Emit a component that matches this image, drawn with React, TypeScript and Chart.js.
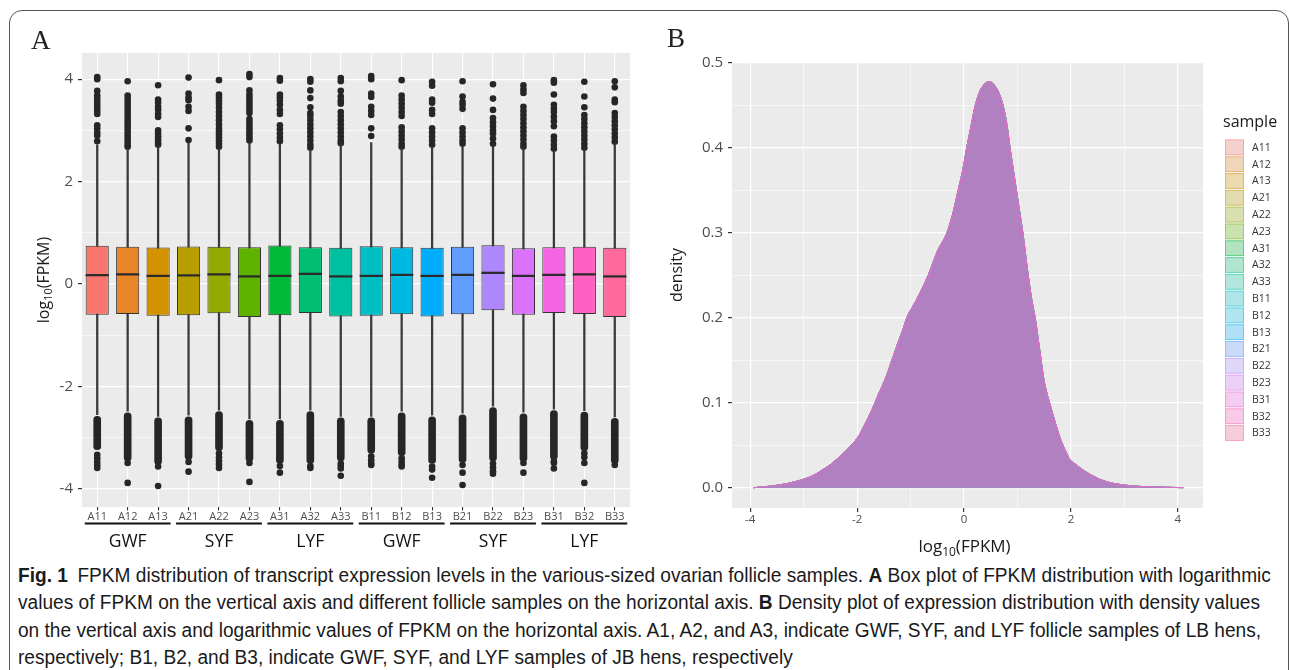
import React, { useEffect, useLayoutEffect, useRef } from 'react';
import { Chart, registerables } from 'chart.js';
Chart.register(...registerables);

const samples = ['A11','A12','A13','A21','A22','A23','A31','A32','A33','B11','B12','B13','B21','B22','B23','B31','B32','B33'];
const groups = ['GWF','SYF','LYF','GWF','SYF','LYF'];
const colors = ['#F8766D','#E88526','#D39200','#B79F00','#93AA00','#5EB300','#00BA38','#00BF74','#00C19F','#00BFC4','#00B9E3','#00ADFA','#619CFF','#AE87FF','#DB72FB','#F564E3','#FF61C3','#FF699C'];

const q1 = [-0.60,-0.585,-0.62,-0.61,-0.57,-0.64,-0.61,-0.565,-0.63,-0.62,-0.59,-0.63,-0.59,-0.51,-0.60,-0.565,-0.585,-0.64];
const q3 = [0.75,0.73,0.715,0.735,0.73,0.72,0.755,0.72,0.71,0.74,0.72,0.71,0.73,0.76,0.70,0.72,0.73,0.71];
const medians = [0.175,0.19,0.16,0.17,0.19,0.15,0.16,0.2,0.15,0.16,0.18,0.16,0.18,0.22,0.16,0.18,0.19,0.15];
const whiskerHigh = [2.72,2.64,2.68,2.75,2.64,2.76,2.74,2.62,2.72,2.76,2.65,2.68,2.7,2.7,2.65,2.6,2.62,2.74];
const whiskerLow = [-2.55,-2.48,-2.58,-2.56,-2.46,-2.63,-2.63,-2.46,-2.58,-2.58,-2.48,-2.56,-2.52,-2.38,-2.5,-2.44,-2.47,-2.59];

const upperOutliers = [
  [4.04,4.0,3.77,3.68,3.62,3.56,3.5,3.44,3.38,3.32,3.1,3.04,2.96,2.9,2.79],
  [3.96,3.68,3.62,3.56,3.5,3.44,3.38,3.32,3.26,3.2,3.14,3.08,3.02,2.96,2.9,2.84,2.78,2.72,2.68],
  [3.88,3.6,3.54,3.46,3.4,3.32,3.26,3.0,2.94,2.88,2.82,2.76,2.72],
  [4.03,3.72,3.64,3.59,3.46,3.38,3.04,2.81],
  [3.98,3.7,3.64,3.58,3.52,3.44,3.36,3.28,3.2,3.12,3.04,2.98,2.92,2.86,2.8,2.74,2.68],
  [4.1,4.04,3.78,3.7,3.64,3.58,3.52,3.46,3.4,3.34,3.22,3.16,3.1,3.04,2.98,2.92,2.86,2.8],
  [4.02,3.97,3.7,3.64,3.58,3.5,3.4,3.32,3.1,3.02,2.94,2.86,2.79],
  [4.0,3.95,3.78,3.63,3.45,3.34,3.28,3.2,3.12,3.04,2.96,2.88,2.8,2.72,2.66],
  [4.02,3.96,3.77,3.66,3.58,3.52,3.36,3.28,3.2,3.12,3.04,2.96,2.88,2.8,2.75],
  [4.06,4.0,3.72,3.65,3.46,3.38,3.3,3.04,2.89],
  [3.98,3.68,3.6,3.52,3.44,3.36,3.28,3.06,2.98,2.9,2.82,2.74,2.68],
  [3.95,3.87,3.6,3.54,3.4,3.32,3.04,2.96,2.88,2.8,2.72],
  [3.96,3.66,3.56,3.5,3.42,3.04,2.96,2.88,2.8,2.74],
  [3.9,3.62,3.4,3.24,3.16,3.08,3.0,2.94,2.84,2.74],
  [3.88,3.8,3.73,3.46,3.38,3.3,3.22,3.14,3.06,2.98,2.9,2.82,2.74,2.68],
  [3.98,3.93,3.7,3.5,3.42,3.36,3.27,3.18,3.08,2.88,2.8,2.72,2.64],
  [3.95,3.66,3.45,3.3,3.22,3.14,3.06,2.98,2.9,2.82,2.74,2.66],
  [3.96,3.84,3.6,3.55,3.34,3.26,3.18,3.1,3.02,2.94,2.86,2.78],
];
const lowerDense = [
  [-2.58,-3.23],[-2.51,-3.45],[-2.61,-3.52],[-2.59,-3.42],[-2.49,-3.25],[-2.66,-3.46],[-2.66,-3.5],[-2.49,-3.5],[-2.61,-3.45],
  [-2.61,-3.3],[-2.51,-3.35],[-2.59,-3.5],[-2.55,-3.48],[-2.41,-3.45],[-2.53,-3.46],[-2.47,-3.42],[-2.5,-3.25],[-2.62,-3.5],
];
const lowerOutliers = [
  [-3.33,-3.4,-3.47,-3.53,-3.59],[-3.49,-3.88],[-3.56,-3.94],[-3.47,-3.66],[-3.3,-3.38,-3.45,-3.52,-3.59],[-3.49,-3.86],
  [-3.55,-3.68],[-3.55,-3.59],[-3.5,-3.55,-3.6,-3.74],[-3.36,-3.44,-3.5,-3.53],[-3.4,-3.46,-3.52,-3.56],[-3.56,-3.62,-3.78],
  [-3.53,-3.68,-3.92],[-3.5,-3.58,-3.65,-3.7],[-3.49,-3.68],[-3.46,-3.49,-3.6],[-3.3,-3.38,-3.49,-3.88],[-3.53],
];

const boxTicks = [-4,-3,-2,-1,0,1,2,3,4];
const densXTicks = [-4,-3,-2,-1,0,1,2,3,4];
const densYTicks = [0,0.05,0.1,0.15,0.2,0.25,0.3,0.35,0.4,0.45,0.5];

const densityX = [-3.94,-3.6,-3.3,-3.05,-2.8,-2.65,-2.5,-2.32,-2.15,-1.98,-1.85,-1.72,-1.6,-1.46,-1.35,-1.25,-1.15,-1.07,-0.9,-0.67,-0.5,-0.32,-0.2,-0.11,-0.02,0.05,0.13,0.21,0.3,0.4,0.47,0.55,0.65,0.73,0.8,0.86,0.92,0.98,1.04,1.1,1.2,1.27,1.33,1.42,1.5,1.6,1.7,1.8,1.9,1.98,2.1,2.2,2.35,2.5,2.62,2.8,3.16,3.5,4.1];
const densityY = [0,0.002,0.005,0.009,0.015,0.021,0.027,0.037,0.047,0.06,0.075,0.092,0.11,0.13,0.15,0.168,0.185,0.2,0.22,0.25,0.278,0.3,0.325,0.35,0.375,0.4,0.425,0.45,0.467,0.476,0.478,0.475,0.465,0.45,0.428,0.4,0.375,0.35,0.325,0.3,0.25,0.22,0.2,0.16,0.125,0.1,0.078,0.058,0.043,0.033,0.027,0.022,0.016,0.011,0.008,0.005,0.002,0.001,0];

const FONT = '"Open Sans", "Noto Sans", sans-serif';

function rgba(hex: string, a: number) {
  const n = parseInt(hex.slice(1), 16);
  return `rgba(${(n >> 16) & 255},${(n >> 8) & 255},${n & 255},${a})`;
}

function drawLogTitle(ctx: CanvasRenderingContext2D, cx: number, cy: number, size: number, rotate: boolean) {
  ctx.save();
  ctx.translate(cx, cy);
  if (rotate) ctx.rotate(-Math.PI / 2);
  ctx.fillStyle = '#1a1a1a';
  ctx.textBaseline = 'alphabetic';
  ctx.textAlign = 'left';
  const main = `${size}px ${FONT}`;
  const sub = `${Math.round(size * 0.68)}px ${FONT}`;
  ctx.font = main;
  const w1 = ctx.measureText('log').width;
  const w3 = ctx.measureText('(FPKM)').width;
  ctx.font = sub;
  const w2 = ctx.measureText('10').width;
  let x = -(w1 + w2 + w3) / 2;
  const base = size * 0.36;
  ctx.font = main;
  ctx.fillText('log', x, base);
  x += w1;
  ctx.font = sub;
  ctx.fillText('10', x, base + size * 0.22);
  x += w2;
  ctx.font = main;
  ctx.fillText('(FPKM)', x, base);
  ctx.restore();
}

const panelBg = {
  id: 'panelBg',
  beforeDraw(chart: any) {
    const { ctx, chartArea: a } = chart;
    ctx.save();
    ctx.fillStyle = '#EBEBEB';
    ctx.fillRect(a.left, a.top, a.right - a.left, a.bottom - a.top);
    ctx.restore();
  },
};

const boxDecor = {
  id: 'boxDecor',
  afterDraw(chart: any) {
    const { ctx, chartArea: a } = chart;
    const xs = chart.scales.x;
    const step = xs.getPixelForValue(1) - xs.getPixelForValue(0);
    ctx.save();
    ctx.strokeStyle = '#111';
    ctx.lineWidth = 2;
    ctx.fillStyle = '#111';
    ctx.font = `17.5px ${FONT}`;
    ctx.textAlign = 'center';
    ctx.textBaseline = 'middle';
    groups.forEach((g, gi) => {
      const x0 = xs.getPixelForValue(gi * 3) - step * 0.41;
      const x1 = xs.getPixelForValue(gi * 3 + 2) + step * 0.41;
      ctx.beginPath();
      ctx.moveTo(x0, a.bottom + 16.5);
      ctx.lineTo(x1, a.bottom + 16.5);
      ctx.stroke();
      ctx.fillText(g, xs.getPixelForValue(gi * 3 + 1), a.bottom + 35);
    });
    ctx.restore();
    drawLogTitle(ctx, 43, (a.top + a.bottom) / 2, 16, true);
  },
};

const densDecor = {
  id: 'densDecor',
  afterDraw(chart: any) {
    const { ctx, chartArea: a } = chart;
    drawLogTitle(ctx, (a.left + a.right) / 2 - 3, a.bottom + 38, 17, false);
    ctx.save();
    ctx.translate(27, (a.top + a.bottom) / 2 - 10);
    ctx.rotate(-Math.PI / 2);
    ctx.fillStyle = '#1a1a1a';
    ctx.font = `16px ${FONT}`;
    ctx.textAlign = 'center';
    ctx.textBaseline = 'middle';
    ctx.fillText('density', 0, 0);
    ctx.restore();
    // legend
    ctx.save();
    const lx = a.right + 22;
    ctx.fillStyle = '#1a1a1a';
    ctx.font = `16px ${FONT}`;
    ctx.textAlign = 'left';
    ctx.textBaseline = 'middle';
    ctx.fillText('sample', lx - 2, 122);
    const top0 = 139.5;
    const rowH = 16.8;
    samples.forEach((s, i) => {
      const y = top0 + i * rowH;
      ctx.fillStyle = '#F4F4F4';
      ctx.fillRect(lx, y, 19, rowH - 1);
      ctx.fillStyle = rgba(colors[i], 0.28);
      ctx.fillRect(lx, y, 19, rowH - 1);
      ctx.strokeStyle = rgba(colors[i], 0.45);
      ctx.lineWidth = 1;
      ctx.strokeRect(lx + 0.5, y + 0.5, 18, rowH - 2);
      ctx.fillStyle = '#333';
      ctx.font = `10.5px ${FONT}`;
      ctx.fillText(s, lx + 27, y + rowH / 2);
    });
    ctx.restore();
  },
};

function BoxChart() {
  const ref = useRef<HTMLCanvasElement>(null);
  useEffect(() => {
    const points: any[] = [];
    samples.forEach((s, i) => {
      upperOutliers[i].forEach((v) => points.push({ x: s, y: v }));
      lowerOutliers[i].forEach((v) => points.push({ x: s, y: v }));
    });
    const chart = new Chart(ref.current!, {
      type: 'bar',
      data: {
        labels: samples,
        datasets: [
          { type: 'bar', label: 'median', data: medians.map((m) => [m - 0.022, m + 0.022]), backgroundColor: '#2b2b2b', barPercentage: 0.76, categoryPercentage: 1, grouped: false, order: 0 } as any,
          { type: 'bar', label: 'box', data: samples.map((_, i) => [q1[i], q3[i]]), backgroundColor: colors, borderColor: '#333', borderWidth: 1, borderSkipped: false, barPercentage: 0.76, categoryPercentage: 1, grouped: false, order: 1 } as any,
          { type: 'bar', label: 'whisker', data: samples.map((_, i) => [whiskerLow[i], whiskerHigh[i]]), backgroundColor: '#3a3a3a', barThickness: 1.6, grouped: false, order: 2 } as any,
          { type: 'bar', label: 'dense', data: lowerDense, backgroundColor: '#262626', barThickness: 7, borderRadius: 3.5, borderSkipped: false, grouped: false, order: 3 } as any,
          { type: 'scatter', label: 'outliers', data: points, pointRadius: 3.3, backgroundColor: '#262626', borderWidth: 0, order: 4 } as any,
        ],
      },
      options: {
        animation: false,
        responsive: false,
        maintainAspectRatio: false,
        events: [],
        layout: { padding: { left: 0, right: 20, top: 53, bottom: 0 } },
        plugins: { legend: { display: false }, tooltip: { enabled: false } },
        scales: {
          x: {
            type: 'category',
            offset: true,
            grid: { offset: false, color: '#FFFFFF', lineWidth: 1.1, tickColor: '#333', tickLength: 3.5 },
            border: { display: false },
            ticks: { font: { family: FONT, size: 11 }, color: '#4d4d4d', padding: 0, maxRotation: 0, autoSkip: false },
            afterFit: (s: any) => { s.height = 53; },
          },
          y: {
            type: 'linear',
            min: -4.35,
            max: 4.51,
            afterBuildTicks: (s: any) => { s.ticks = boxTicks.map((v) => ({ value: v })); },
            grid: {
              color: '#FFFFFF',
              lineWidth: (c: any) => (c.tick && c.tick.value % 2 === 0 ? 1.2 : 0.6),
              tickColor: (c: any) => (c.tick && c.tick.value % 2 === 0 ? '#333' : 'rgba(0,0,0,0)'),
              tickLength: 4,
            },
            border: { display: false },
            ticks: { callback: (v: any) => (Number(v) % 2 === 0 ? String(v) : ''), font: { family: FONT, size: 15 }, color: '#4d4d4d', padding: 5 },
            afterFit: (s: any) => { s.width = 82; },
          },
        },
      },
      plugins: [panelBg, boxDecor],
    } as any);
    return () => chart.destroy();
  }, []);
  return <canvas ref={ref} width={650} height={560} style={{ position: 'absolute', left: 0, top: 0, width: 650, height: 560 }} />;
}

function DensityChart() {
  const ref = useRef<HTMLCanvasElement>(null);
  useEffect(() => {
    const chart = new Chart(ref.current!, {
      type: 'line',
      data: {
        datasets: samples.map((s, i) => ({
          label: s,
          data: densityX.map((x, j) => ({ x, y: densityY[j] })),
          borderColor: rgba(colors[i], 0.35),
          borderWidth: 1,
          backgroundColor: rgba(colors[i], 0.2),
          fill: 'origin',
          pointRadius: 0,
          cubicInterpolationMode: 'monotone',
          order: samples.length - 1 - i,
        })),
      },
      options: {
        animation: false,
        responsive: false,
        maintainAspectRatio: false,
        events: [],
        layout: { padding: { left: 0, right: 87, top: 62, bottom: 0 } },
        plugins: { legend: { display: false }, tooltip: { enabled: false } },
        scales: {
          x: {
            type: 'linear',
            min: -4.34,
            max: 4.47,
            afterBuildTicks: (s: any) => { s.ticks = densXTicks.map((v) => ({ value: v })); },
            grid: {
              color: '#FFFFFF',
              lineWidth: (c: any) => (c.tick && c.tick.value % 2 === 0 ? 1.2 : 0.6),
              tickColor: (c: any) => (c.tick && c.tick.value % 2 === 0 ? '#333' : 'rgba(0,0,0,0)'),
              tickLength: 4,
            },
            border: { display: false },
            ticks: { callback: (v: any) => (Number(v) % 2 === 0 ? String(v) : ''), font: { family: FONT, size: 11.5 }, color: '#4d4d4d', padding: 1, maxRotation: 0, autoSkip: false },
            afterFit: (s: any) => { s.height = 52; },
          },
          y: {
            type: 'linear',
            min: -0.0239,
            max: 0.501,
            afterBuildTicks: (s: any) => { s.ticks = densYTicks.map((v) => ({ value: v })); },
            grid: {
              color: '#FFFFFF',
              lineWidth: (c: any) => (c.tick && Math.round(c.tick.value * 100) % 10 === 0 ? 1.2 : 0.6),
              tickColor: (c: any) => (c.tick && Math.round(c.tick.value * 100) % 10 === 0 ? '#333' : 'rgba(0,0,0,0)'),
              tickLength: 4,
            },
            border: { display: false },
            ticks: { callback: (v: any) => (Math.round(Number(v) * 100) % 10 === 0 ? Number(v).toFixed(1) : ''), font: { family: FONT, size: 15 }, color: '#4d4d4d', padding: 5 },
            afterFit: (s: any) => { s.width = 82; },
          },
        },
      },
      plugins: [panelBg, densDecor],
    } as any);
    return () => chart.destroy();
  }, []);
  return <canvas ref={ref} width={640} height={560} style={{ position: 'absolute', left: 650, top: 0, width: 640, height: 560 }} />;
}

const captionLines: React.ReactNode[] = [
  <>
    <b>Fig. 1</b>{'\u2002'}FPKM distribution of transcript expression levels in the various-sized ovarian follicle samples. <b>A</b> Box plot of FPKM distribution with logarithmic
  </>,
  <>
    values of FPKM on the vertical axis and different follicle samples on the horizontal axis. <b>B</b> Density plot of expression distribution with density values
  </>,
  <>on the vertical axis and logarithmic values of FPKM on the horizontal axis. A1, A2, and A3, indicate GWF, SYF, and LYF follicle samples of LB hens,</>,
  <>respectively; B1, B2, and B3, indicate GWF, SYF, and LYF samples of JB hens, respectively</>,
];

function Caption() {
  const boxRef = useRef<HTMLDivElement>(null);
  const firstRef = useRef<HTMLSpanElement>(null);
  useLayoutEffect(() => {
    const fit = () => {
      if (!firstRef.current || !boxRef.current) return;
      const w = firstRef.current.offsetWidth;
      if (w > 0) boxRef.current.style.transform = `scaleX(${1253 / w})`;
    };
    fit();
    if ((document as any).fonts && (document as any).fonts.ready) (document as any).fonts.ready.then(fit);
  }, []);
  return (
    <div
      ref={boxRef}
      style={{
        position: 'absolute', left: 18, top: 562, transformOrigin: '0 0', whiteSpace: 'nowrap',
        fontFamily: '"Liberation Sans Narrow", "Arial Narrow", "Liberation Sans", sans-serif', fontSize: 19.5, lineHeight: '27.3px', color: '#1a1a1a',
      }}
    >
      {captionLines.map((l, i) => (
        <div key={i}>
          <span ref={i === 0 ? firstRef : undefined}>{l}</span>
        </div>
      ))}
    </div>
  );
}

export default function App() {
  return (
    <div style={{ position: 'absolute', left: 0, top: 0, width: 1290, height: 670, overflow: 'hidden', background: '#fff' }}>
      <div style={{ position: 'absolute', left: 9, top: 10, width: 1280, height: 720, border: '1.3px solid #555', borderRadius: 13, boxSizing: 'border-box' }} />
      <BoxChart />
      <DensityChart />
      <div style={{ position: 'absolute', left: 31, top: 27, fontFamily: '"Liberation Serif", "DejaVu Serif", serif', fontSize: 27, lineHeight: '27px', color: '#222' }}>A</div>
      <div style={{ position: 'absolute', left: 667, top: 25, fontFamily: '"Liberation Serif", "DejaVu Serif", serif', fontSize: 27, lineHeight: '27px', color: '#222' }}>B</div>
      <Caption />
    </div>
  );
}
